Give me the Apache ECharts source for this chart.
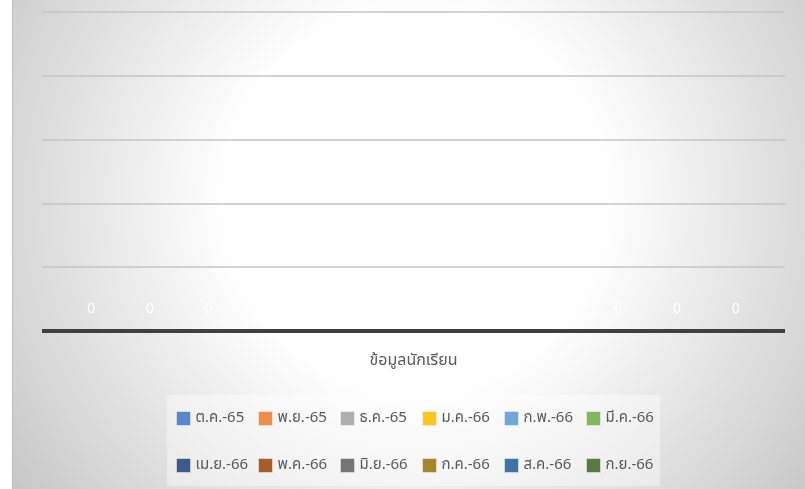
<!DOCTYPE html>
<html>
<head>
<meta charset="utf-8">
<script src="https://cdn.jsdelivr.net/npm/echarts@6/dist/echarts.min.js"></script>
<style>
html,body{margin:0;padding:0;background:#ffffff;}
#chart{width:805px;height:489px;}
</style>
</head>
<body>
<div id="chart"></div>
<script>
// ---- data ----
const categories = ['ข้อมูลนักเรียน'];
const seriesNames = ['ต.ค.-65','พ.ย.-65','ธ.ค.-65','ม.ค.-66','ก.พ.-66','มี.ค.-66',
                     'เม.ย.-66','พ.ค.-66','มิ.ย.-66','ก.ค.-66','ส.ค.-66','ก.ย.-66'];
const seriesValues = [[0],[0],[0],[0],[0],[0],[0],[0],[0],[0],[0],[0]];
const seriesColors = ['#5A86CC','#EF8B4B','#AFAFAF','#FFC61F','#6FA7DA','#80B65E',
                      '#3E5A8C','#A95B2A','#757575','#A5862A','#3F73A3','#5A7A43'];
const yTicks = [0,1,2,3,4,5];

const FONT = '"Noto Sans Thai","Noto Sans","DejaVu Sans",sans-serif';
const chart = echarts.init(document.getElementById('chart'));

const series = seriesNames.map((n,i)=>({
  name:n, type:'bar', data:seriesValues[i],
  barGap:'0%', barCategoryGap:'5.4%',
  itemStyle:{color:seriesColors[i]},
  label:{show:true, position:'top', distance:14, color:'#ffffff',
         fontFamily:FONT, fontSize:14}
}));

const legends = seriesNames.map((n,i)=>({
  data:[{name:n, itemStyle:{borderColor:'rgba(255,255,255,0.45)', borderWidth:1}}],
  left:176 + 82*(i%6), top:(i<6 ? 411 : 458), padding:0,
  itemWidth:14, itemHeight:14, icon:'rect',
  textStyle:{color:'#595959', fontSize:15, fontFamily:FONT}
}));

chart.setOption({
  animation:false,
  color:seriesColors,
  graphic:[
    {type:'rect', z:-10, silent:true, shape:{x:12,y:0,width:793,height:489},
     style:{fill:{type:'radial', x:415, y:200, r:500, global:true,
       colorStops:[{offset:0,color:'#ffffff'},{offset:0.38,color:'#ffffff'},{offset:1,color:'#c6c6c6'}]}}},
    {type:'line', z:-9, silent:true, shape:{x1:12.5,y1:0,x2:12.5,y2:489},
     style:{stroke:'#bdbdbd', lineWidth:1}},
    {type:'rect', z:-8, silent:true, shape:{x:167,y:395,width:493,height:91},
     style:{fill:'rgba(255,255,255,0.4)'}}
  ],
  grid:{left:42, right:20, top:12, bottom:158, containLabel:false},
  legend:legends,
  xAxis:{type:'category', data:categories,
    axisLine:{lineStyle:{color:'#404040', width:4, cap:'butt'}},
    axisTick:{show:false},
    axisLabel:{color:'#595959', fontSize:16, fontFamily:FONT, margin:23}},
  yAxis:{type:'value', min:yTicks[0], max:yTicks[yTicks.length-1], interval:1,
    axisLabel:{show:false}, axisLine:{show:false}, axisTick:{show:false},
    splitLine:{lineStyle:{color:'#c4c4c4', width:1.5}}},
  series:series
});
</script>
</body>
</html>
